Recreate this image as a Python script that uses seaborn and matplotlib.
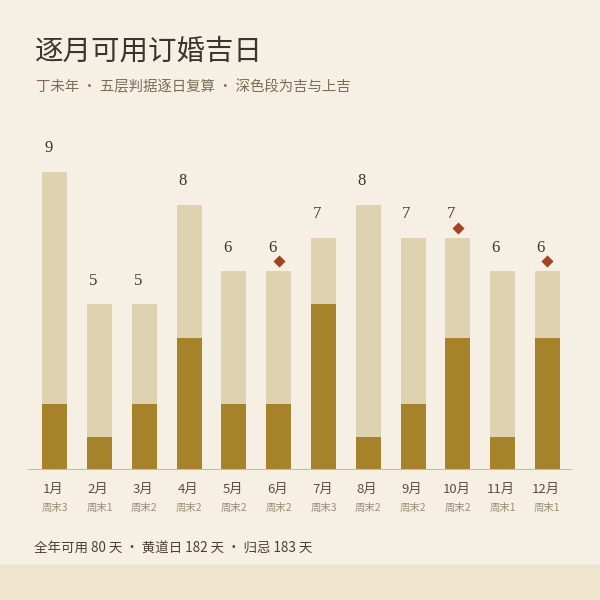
import pandas as pd
import matplotlib.pyplot as plt
import matplotlib.patches as mpatches
import seaborn as sns

# data
months = ["1月", "2月", "3月", "4月", "5月", "6月", "7月", "8月", "9月", "10月", "11月", "12月"]
total_days = [9, 5, 5, 8, 6, 6, 7, 8, 7, 7, 6, 6]
good_days = [2, 1, 2, 4, 2, 2, 5, 1, 2, 4, 1, 4]
weekend_days = [3, 1, 2, 2, 2, 2, 3, 2, 2, 2, 1, 1]
marked = ["6月", "10月", "12月"]

df = pd.DataFrame({"month": months, "total": total_days, "good": good_days, "weekend": weekend_days})

bg = "#F6F0E4"
light = "#DFD2B0"
dark = "#A6822A"
accent = "#A0451F"

sns.set_theme(style="white")
plt.rcParams["font.family"] = ["Noto Sans CJK SC", "DejaVu Sans"]

fig = plt.figure(figsize=(6, 6), dpi=100, facecolor=bg)
# bottom band
fig.patches.append(mpatches.Rectangle((0, 0), 1, 0.058, transform=fig.transFigure,
                                      color="#EFE5CE", zorder=0))

ax = fig.add_axes([28 / 600, 1 - 470 / 600, 544 / 600, 340 / 600])
ax.set_facecolor("none")

sns.barplot(data=df, x="month", y="total", color=light, width=0.56, saturation=1,
            linewidth=0, ax=ax)
sns.barplot(data=df, x="month", y="good", color=dark, width=0.56, saturation=1,
            linewidth=0, ax=ax)

ax.set_xlim(-0.6, 11.55)
ax.set_ylim(0, 10.27)
for s in ax.spines.values():
    s.set_visible(False)
ax.axhline(0, color="#C9BB9B", lw=1.5, zorder=5)
ax.set_xticks([])
ax.set_yticks([])
ax.set_xlabel("")
ax.set_ylabel("")

for i, row in df.iterrows():
    ax.text(i - 0.15, row["total"] + 0.72, str(row["total"]), ha="center", va="center",
            fontsize=12, family="Liberation Serif", color="#3A3530")
    if row["month"] in marked:
        ax.scatter(i, row["total"] + 0.3, marker="D", s=38, color=accent, zorder=6, linewidths=0)
    ax.annotate(row["month"], (i, 0), xytext=(-1, -14), textcoords="offset points",
                ha="center", va="center", fontsize=9.5, color="#5A5040")
    ax.annotate(f"周末{row['weekend']}", (i, 0), xytext=(0, -27), textcoords="offset points",
                ha="center", va="center", fontsize=7.5, color="#9A8E78")

fig.text(35 / 600, 1 - 52 / 600, "逐月可用订婚吉日", fontsize=20.5, color="#3A3530",
         va="center", ha="left", fontweight="light")
fig.text(36 / 600, 1 - 87 / 600, "丁未年 · 五层判据逐日复算 · 深色段为吉与上吉", fontsize=10.4,
         color="#7A6E55", va="center", ha="left")
fig.text(34 / 600, 1 - 548 / 600, "全年可用 80 天 · 黄道日 182 天 · 归忌 183 天", fontsize=9.7,
         color="#4A4238", va="center", ha="left")

fig.savefig("out.png", dpi=100, facecolor=bg)
